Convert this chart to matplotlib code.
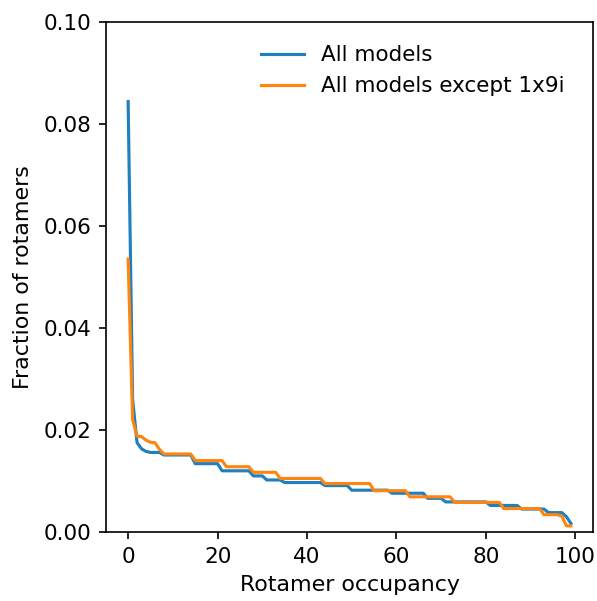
import matplotlib
matplotlib.use("Agg")
import matplotlib.pyplot as plt
import numpy as np

occupancy = list(range(100))

all_models = [
    0.0844, 0.0260, 0.0175, 0.0163, 0.0158, 0.0156, 0.0156, 0.0156, 0.0151, 0.0151,
    0.0151, 0.0151, 0.0151, 0.0151, 0.0151, 0.0134, 0.0134, 0.0134, 0.0134, 0.0134,
    0.0134, 0.0120, 0.0120, 0.0120, 0.0120, 0.0120, 0.0120, 0.0120, 0.0110, 0.0110,
    0.0110, 0.0102, 0.0102, 0.0102, 0.0102, 0.0097, 0.0097, 0.0097, 0.0097, 0.0097,
    0.0097, 0.0097, 0.0097, 0.0097, 0.0091, 0.0091, 0.0091, 0.0091, 0.0091, 0.0091,
    0.0082, 0.0082, 0.0082, 0.0082, 0.0082, 0.0082, 0.0082, 0.0082, 0.0082, 0.0076,
    0.0076, 0.0076, 0.0076, 0.0076, 0.0076, 0.0076, 0.0076, 0.0066, 0.0066, 0.0066,
    0.0066, 0.0059, 0.0059, 0.0059, 0.0059, 0.0059, 0.0059, 0.0059, 0.0059, 0.0059,
    0.0059, 0.0052, 0.0052, 0.0052, 0.0052, 0.0052, 0.0052, 0.0052, 0.0045, 0.0045,
    0.0045, 0.0045, 0.0045, 0.0045, 0.0038, 0.0038, 0.0038, 0.0038, 0.0030, 0.0017,
]

all_except_1x9i = [
    0.0535, 0.0220, 0.0188, 0.0187, 0.0180, 0.0176, 0.0175, 0.0162, 0.0153, 0.0153,
    0.0153, 0.0153, 0.0153, 0.0153, 0.0153, 0.0140, 0.0140, 0.0140, 0.0140, 0.0140,
    0.0140, 0.0140, 0.0128, 0.0128, 0.0128, 0.0128, 0.0128, 0.0128, 0.0117, 0.0117,
    0.0117, 0.0117, 0.0117, 0.0117, 0.0105, 0.0105, 0.0105, 0.0105, 0.0105, 0.0105,
    0.0105, 0.0105, 0.0105, 0.0105, 0.0095, 0.0095, 0.0095, 0.0095, 0.0095, 0.0095,
    0.0095, 0.0095, 0.0095, 0.0095, 0.0095, 0.0081, 0.0081, 0.0081, 0.0081, 0.0081,
    0.0081, 0.0081, 0.0081, 0.0069, 0.0069, 0.0069, 0.0069, 0.0069, 0.0069, 0.0069,
    0.0069, 0.0069, 0.0069, 0.0058, 0.0058, 0.0058, 0.0058, 0.0058, 0.0058, 0.0058,
    0.0058, 0.0058, 0.0058, 0.0058, 0.0046, 0.0046, 0.0046, 0.0046, 0.0046, 0.0046,
    0.0046, 0.0046, 0.0046, 0.0034, 0.0034, 0.0034, 0.0034, 0.0031, 0.0012, 0.0012,
]

labels = ["All models", "All models except 1x9i"]

plt.rcParams['font.family'] = ['DejaVu Sans']
W, H = 597, 601
fig = plt.figure(figsize=(W / 150, H / 150), dpi=150)
l, r, t, b = 106, 593, 22, 532
ax = fig.add_axes([l / W, 1 - b / H, (r - l) / W, (b - t) / H])
ax.plot(occupancy, all_models, color='#1f7fbf', lw=1.5, label=labels[0])
ax.plot(occupancy, all_except_1x9i, color='#ff850f', lw=1.5, label=labels[1])
ax.set_ylim(0, 0.1)
ax.set_xticks([0, 20, 40, 60, 80, 100])
ax.set_yticks([0.0, 0.02, 0.04, 0.06, 0.08, 0.10])
ax.set_yticklabels(['0.00', '0.02', '0.04', '0.06', '0.08', '0.10'])
ax.tick_params(labelsize=10.3)
ax.set_xlabel('Rotamer occupancy', fontsize=10.6)
ax.set_ylabel('Fraction of rotamers', fontsize=10.6, labelpad=5)
ax.legend(frameon=False, loc='upper left', bbox_to_anchor=(0.278, 0.992),
          fontsize=10.3)
fig.savefig('out.png', dpi=150)
